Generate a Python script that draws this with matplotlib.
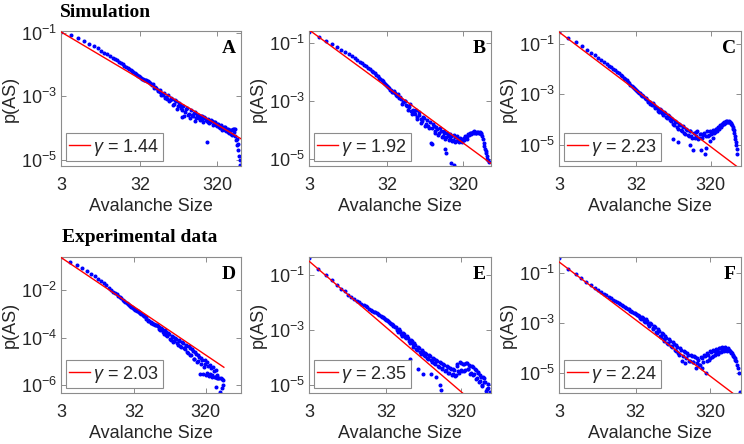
import numpy as np
import matplotlib
matplotlib.use('Agg')
import matplotlib.pyplot as plt
from matplotlib.ticker import FixedLocator, FixedFormatter, NullLocator

plt.rcParams['font.family'] = ['Liberation Sans', 'DejaVu Sans']
plt.rcParams['mathtext.fontset'] = 'custom'
plt.rcParams['mathtext.rm'] = 'Liberation Sans'
plt.rcParams['mathtext.it'] = 'Liberation Sans:italic'

# ---------------- data (avalanche size, log10 p(AS)) ----------------
size_A = [3,4,5,6,7,8,9,10,11,12,13,14,15,16,17,18,19,20,21,22,23,24,25,26,27,28,29,30,31,32,33,34,35,36,37,38,39,40,
          42,43,44,46,47,49,50,52,54,55,57,58,60,62,64,66,68,70,72,74,76,78,80,83,85,88,90,93,95,98,101,104,107,110,111,
          113,116,120,123,126,130,134,137,140,145,149,153,158,162,165,171,175,180,185,190,195,200,205,211,216,222,228,234,
          236,240,246,252,259,265,272,279,286,293,300,308,315,322,330,338,346,354,362,371,380,389,398,407,417,426,436,446,
          456,466,477,487,498,509,520,531,543,550,560,570,580,590,600,612,625,640]
logp_A = [-0.97,-1.08,-1.17,-1.27,-1.35,-1.43,-1.50,-1.57,-1.63,-1.68,-1.74,-1.79,-1.83,-1.87,-1.92,-1.95,-1.99,-2.04,
          -2.08,-2.11,-2.14,-2.17,-2.21,-2.24,-2.27,-2.30,-2.34,-2.36,-2.38,-2.40,-2.44,-2.46,-2.47,-2.50,-2.50,-2.48,-2.53,
          -2.52,-2.57,-2.60,-2.62,-2.66,-2.63,-2.73,-2.70,-2.76,-2.80,-2.83,-2.86,-2.80,-2.98,-2.92,-2.95,-2.90,-3.05,-3.02,
          -3.08,-2.98,-3.15,-3.12,-3.05,-3.10,-3.28,-3.25,-3.12,-3.15,-3.40,-3.30,-3.22,-3.28,-3.38,-3.45,-3.65,-3.32,-3.30,
          -3.62,-3.50,-3.42,-3.38,-3.58,-3.55,-3.70,-3.45,-3.58,-3.62,-3.52,-3.50,-3.78,-3.70,-3.60,-3.58,-3.68,-3.75,-3.62,
          -3.62,-3.72,-3.80,-3.66,-3.68,-3.75,-3.78,-4.43,-3.80,-3.72,-3.84,-3.82,-3.76,-3.78,-3.90,-3.88,-3.82,-3.83,-3.92,
          -3.95,-3.88,-3.88,-3.98,-4.00,-3.93,-3.92,-4.06,-4.05,-3.98,-3.98,-4.08,-4.10,-4.04,-4.03,-4.12,-4.15,-4.06,-4.08,
          -4.18,-4.22,-4.05,-4.02,-4.12,-4.05,-4.25,-4.38,-4.35,-4.55,-4.50,-4.70,-4.90,-5.00,-5.18]

size_B = [3,4,5,6,7,8,9,10,11,12,13,14,15,16,17,18,19,20,21,22,23,24,25,26,27,28,29,30,31,32,33,34,35,36,37,38,39,40,
          42,43,44,46,47,49,50,52,54,55,57,58,60,62,64,66,68,70,72,74,76,78,80,83,85,88,90,93,95,98,101,104,107,110,113,
          116,120,123,125,127,130,134,137,141,145,149,153,158,162,167,171,176,180,182,186,190,192,195,200,205,211,216,220,
          222,228,234,240,245,246,252,259,265,272,279,286,293,300,308,315,322,330,338,346,354,362,371,380,389,398,407,417,
          426,436,446,456,466,477,487,498,509,520,531,543,555,566,578,590,603,615,628,640,655,665,685,700]
logp_B = [-0.62,-0.82,-0.93,-1.05,-1.15,-1.24,-1.32,-1.40,-1.47,-1.53,-1.60,-1.66,-1.71,-1.77,-1.82,-1.87,-1.91,-1.96,
          -2.01,-2.05,-2.10,-2.15,-2.20,-2.24,-2.28,-2.33,-2.38,-2.42,-2.46,-2.50,-2.53,-2.56,-2.62,-2.63,-2.68,-2.70,-2.66,
          -2.72,-2.80,-2.82,-2.78,-2.92,-2.88,-2.95,-3.10,-3.05,-3.00,-3.02,-3.15,-3.18,-3.30,-3.20,-3.12,-3.35,-3.45,-3.30,
          -3.40,-3.45,-3.30,-3.55,-3.62,-3.48,-3.40,-3.62,-3.75,-3.70,-3.55,-3.60,-3.85,-3.78,-3.65,-3.85,-3.95,-3.72,-4.44,
          -3.95,-4.50,-3.80,-3.88,-4.10,-4.05,-3.90,-3.98,-4.18,-4.10,-3.95,-4.05,-4.25,-4.20,-4.02,-4.12,-4.67,-4.30,-4.25,
          -4.79,-4.10,-4.20,-4.35,-4.30,-4.15,-5.13,-4.22,-4.38,-4.35,-4.18,-5.20,-4.25,-4.40,-4.38,-4.22,-4.30,-4.42,-4.35,
          -4.28,-4.32,-4.40,-4.30,-4.36,-4.28,-4.22,-4.25,-4.32,-4.22,-4.15,-4.18,-4.12,-4.15,-4.10,-4.12,-4.08,-4.10,-4.05,
          -4.08,-4.12,-4.10,-4.06,-4.08,-4.12,-4.12,-4.08,-4.10,-4.15,-4.20,-4.30,-4.45,-4.55,-4.65,-4.72,-4.80,-4.90,-5.00,
          -5.05,-5.10]

size_C = [3,4,5,6,7,8,9,10,11,12,13,14,15,16,17,18,19,20,21,22,23,24,25,26,27,28,29,30,31,32,33,34,35,36,37,38,39,40,
          42,43,44,46,47,49,50,52,54,55,57,58,60,62,64,66,68,70,72,74,76,78,80,83,85,88,90,93,95,98,100,101,104,107,110,
          113,116,117,120,123,127,130,134,137,141,145,149,153,158,162,167,170,171,176,180,186,190,195,200,205,211,216,222,
          228,234,240,246,252,259,265,272,277,286,293,300,308,315,322,330,338,346,354,362,371,380,389,398,407,417,426,436,
          446,456,466,477,487,498,509,520,531,543,555,566,578,590,603,615,628,640,650,660,668,676,688,700,712,724]
logp_C = [-0.53,-0.78,-0.95,-1.10,-1.23,-1.35,-1.45,-1.55,-1.63,-1.71,-1.79,-1.86,-1.93,-1.99,-2.05,-2.11,-2.17,-2.23,
          -2.29,-2.35,-2.40,-2.45,-2.51,-2.56,-2.61,-2.66,-2.70,-2.74,-2.79,-2.83,-2.86,-2.91,-2.93,-2.95,-3.02,-3.05,-3.02,
          -3.08,-3.15,-3.18,-3.14,-3.25,-3.30,-3.30,-3.38,-3.42,-3.35,-3.40,-3.50,-3.55,-3.48,-3.52,-3.65,-3.68,-3.58,-3.62,
          -3.75,-3.80,-3.70,-3.75,-3.88,-3.92,-3.82,-3.85,-4.00,-4.05,-3.92,-3.95,-4.74,-4.15,-4.20,-4.05,-4.08,-4.28,-4.35,
          -4.88,-4.15,-4.20,-4.40,-4.45,-4.25,-4.30,-4.50,-4.55,-4.35,-4.40,-4.60,-4.65,-4.45,-5.00,-4.45,-4.62,-4.70,-5.20,
          -4.50,-4.72,-4.62,-4.48,-4.45,-4.75,-4.70,-4.55,-4.55,-5.20,-4.70,-4.58,-4.50,-5.33,-4.62,-5.13,-4.45,-4.65,-4.58,
          -4.85,-4.45,-4.55,-4.52,-4.70,-4.40,-4.50,-4.48,-4.38,-4.38,-4.45,-4.30,-4.28,-4.35,-4.22,-4.30,-4.18,-4.22,-4.12,
          -4.15,-4.10,-4.12,-4.06,-4.08,-4.05,-4.08,-4.06,-4.10,-4.08,-4.12,-4.15,-4.22,-4.28,-4.35,-4.42,-4.50,-4.62,-4.74,
          -4.88,-5.00,-5.15,-5.33]

size_D = [3,4,5,6,7,8,9,10,11,12,13,14,15,16,17,18,19,20,21,22,23,24,25,26,27,28,29,30,31,32,33,34,35,36,37,38,39,40,
          42,43,44,46,47,49,50,52,54,55,57,58,60,62,64,66,68,70,72,74,76,78,80,83,85,88,90,93,95,98,101,104,107,110,113,
          116,120,123,127,130,134,137,141,145,149,153,158,162,167,171,176,180,186,190,195,200,205,211,216,222,228,234,240,
          246,252,259,265,272,279,286,293,300,308,315,322,330,338,346,354,362,371,380,389,398,407,417,426,436,440,446,456,
          466,477,498,515,520,543,550,555,566]
logp_D = [-0.61,-0.82,-0.95,-1.07,-1.19,-1.30,-1.41,-1.52,-1.62,-1.71,-1.80,-1.90,-1.98,-2.06,-2.12,-2.18,-2.24,-2.30,
          -2.35,-2.40,-2.45,-2.50,-2.54,-2.58,-2.62,-2.66,-2.70,-2.73,-2.76,-2.78,-2.82,-2.84,-2.87,-2.90,-2.93,-2.96,-2.98,
          -3.00,-3.05,-3.08,-3.10,-3.15,-3.20,-3.30,-3.25,-3.30,-3.36,-3.38,-3.40,-3.42,-3.44,-3.45,-3.47,-3.48,-3.52,-3.55,
          -3.62,-3.70,-3.58,-3.62,-3.78,-3.85,-3.70,-3.75,-3.90,-3.95,-3.80,-3.85,-4.05,-4.10,-3.92,-3.98,-4.20,-4.15,-4.02,
          -4.05,-4.25,-4.30,-4.12,-4.15,-4.35,-4.40,-4.20,-4.25,-4.45,-4.50,-4.30,-4.35,-4.60,-4.65,-4.34,-4.45,-4.75,-4.75,
          -4.50,-4.55,-4.90,-4.90,-4.62,-4.70,-5.05,-5.00,-4.72,-4.80,-5.52,-5.10,-4.85,-4.95,-5.55,-5.25,-4.95,-5.10,-5.60,
          -5.50,-5.05,-5.20,-5.62,-5.55,-5.15,-5.30,-5.65,-5.60,-5.25,-5.40,-5.68,-5.65,-6.08,-5.35,-5.60,-5.70,-5.70,-5.70,
          -6.30,-5.72,-5.75,-6.15,-6.00,-5.78]

size_E = [3,4,5,6,7,8,9,10,11,12,13,14,15,16,17,18,19,20,21,22,23,24,25,26,27,28,29,30,31,32,33,34,35,36,37,38,39,40,
          42,43,44,46,47,49,50,52,54,55,57,58,60,62,64,66,67,68,70,72,74,76,78,80,83,85,86,88,90,93,95,98,100,101,104,107,
          110,113,116,120,123,126,127,130,134,137,141,145,148,149,153,158,162,166,167,171,174,176,180,186,190,195,200,205,
          211,216,222,228,234,240,246,252,259,265,272,279,286,293,300,308,315,322,330,338,346,354,362,371,380,389,398,407,
          417,426,436,446,456,466,477,487,498,509,520,531,543,555,566,578,590,603,615,628,640,655,665,685,700,720,740,770]
logp_E = [-0.38,-0.75,-1.00,-1.18,-1.35,-1.48,-1.58,-1.70,-1.78,-1.86,-1.92,-1.98,-2.03,-2.08,-2.12,-2.16,-2.22,-2.25,
          -2.29,-2.33,-2.35,-2.38,-2.42,-2.45,-2.47,-2.50,-2.52,-2.55,-2.60,-2.62,-2.64,-2.66,-2.70,-2.72,-2.76,-2.78,-2.80,
          -2.85,-2.88,-2.90,-2.98,-3.05,-2.95,-3.02,-3.12,-3.20,-3.10,-3.15,-3.25,-3.30,-3.22,-3.28,-3.40,-3.45,-4.04,-3.35,
          -3.40,-3.52,-3.60,-3.48,-3.55,-3.68,-3.72,-4.41,-3.60,-3.65,-3.80,-3.85,-3.72,-3.78,-4.59,-3.90,-3.95,-3.82,-3.88,
          -4.00,-4.05,-3.92,-3.95,-4.59,-4.10,-4.15,-4.00,-4.05,-4.20,-4.25,-4.71,-4.08,-4.12,-4.30,-4.35,-5.01,-4.15,-4.20,
          -5.19,-4.38,-4.40,-4.25,-4.28,-4.48,-4.45,-4.30,-4.35,-4.55,-4.55,-4.38,-4.40,-4.62,-4.60,-4.42,-4.45,-4.68,-4.65,
          -4.25,-4.30,-4.50,-4.55,-4.15,-4.20,-4.45,-4.50,-4.22,-4.25,-4.48,-4.45,-4.18,-4.20,-4.42,-4.40,-4.28,-4.30,-4.58,
          -4.55,-4.32,-4.35,-4.62,-4.60,-4.42,-4.45,-4.78,-4.75,-4.52,-4.55,-4.88,-4.85,-4.65,-4.70,-5.05,-5.00,-4.70,-4.75,
          -4.88,-4.90,-5.20,-5.15,-4.95,-5.10,-5.25]

size_F = [3,4,5,6,7,8,9,10,11,12,13,14,15,16,17,18,19,20,21,22,23,24,25,26,27,28,29,30,31,32,33,34,35,36,37,38,39,40,
          42,43,44,46,47,49,50,52,54,55,57,58,60,62,64,66,68,70,72,74,76,78,80,83,85,88,90,93,95,98,101,104,107,110,113,
          116,120,123,127,130,134,137,141,145,149,153,158,162,167,171,176,180,186,190,195,200,205,211,216,222,228,234,240,
          246,252,259,265,272,279,286,293,300,308,315,322,330,338,346,354,362,371,380,389,398,407,417,426,436,446,456,466,
          477,487,498,509,520,531,543,555,566,578,590,603,615,628,640,655,665,685,700,720,740,760,790,815]
logp_F = [-0.41,-0.83,-1.05,-1.22,-1.37,-1.50,-1.60,-1.70,-1.78,-1.85,-1.90,-1.96,-2.02,-2.07,-2.12,-2.16,-2.20,-2.25,
          -2.29,-2.32,-2.36,-2.40,-2.42,-2.45,-2.50,-2.52,-2.55,-2.58,-2.60,-2.62,-2.66,-2.68,-2.70,-2.72,-2.80,-2.85,-2.76,
          -2.80,-2.90,-2.95,-2.85,-2.90,-3.05,-3.10,-2.98,-3.05,-3.20,-3.25,-3.10,-3.15,-3.35,-3.40,-3.22,-3.30,-3.50,-3.55,
          -3.38,-3.45,-3.65,-3.70,-3.50,-3.60,-3.80,-3.85,-3.62,-3.70,-3.90,-3.95,-3.75,-3.85,-4.05,-4.10,-3.88,-3.95,-4.20,
          -4.25,-4.00,-4.05,-4.50,-4.30,-4.10,-4.15,-4.60,-4.40,-4.18,-4.25,-4.50,-4.50,-4.28,-4.30,-4.55,-4.55,-4.30,-4.35,
          -4.79,-4.60,-4.38,-4.45,-4.65,-4.65,-4.35,-4.40,-4.80,-4.55,-4.25,-4.30,-4.99,-4.50,-4.20,-4.25,-4.45,-4.40,-4.12,
          -4.15,-4.35,-4.30,-4.05,-4.10,-4.28,-4.20,-4.02,-4.05,-4.22,-4.15,-3.98,-4.00,-4.15,-4.10,-3.95,-3.98,-4.12,-4.08,
          -3.96,-4.02,-4.10,-4.05,-4.00,-4.08,-4.05,-4.12,-4.15,-4.20,-4.18,-4.25,-4.30,-4.35,-4.40,-4.45,-4.52,-4.65,-4.79,
          -4.99,-5.75]

sizes = [size_A, size_B, size_C, size_D, size_E, size_F]
logps = [logp_A, logp_B, logp_C, logp_D, logp_E, logp_F]

panel_letters = ['A', 'B', 'C', 'D', 'E', 'F']
gammas = [1.44, 1.92, 2.23, 2.03, 2.35, 2.24]
fit_logp_at3 = [-0.98, -0.56, -0.54, -0.62, -0.48, -0.565]
fit_end_size = [650, 740, 810, 575, 800, 830]
x_max = [650, 740, 810, 1000, 800, 830]
logy_lims = [(-5.20, -0.95), (-5.24, -0.60), (-5.82, -0.50),
             (-6.34, -0.60), (-5.29, -0.33), (-5.78, -0.37)]
ytick_exps = [[-5, -3, -1], [-5, -3, -1], [-5, -3, -1],
              [-6, -4, -2], [-5, -3, -1], [-5, -3, -1]]
xtick_vals = [3, 32, 320]
xtick_labels = ['3', '32', '320']
row_titles = ['Simulation', 'Experimental data']

# ---------------- figure ----------------
W, H = 744, 444
fig = plt.figure(figsize=(W / 100, H / 100), dpi=100)

col_px = [(61, 241), (309, 491), (559, 741)]
row_px = [(31, 166), (257, 393)]

frame_col = '#8c8c8c'
text_col = '#262626'
serif = ['Liberation Serif', 'DejaVu Serif']

for i in range(6):
    r, c = divmod(i, 3)
    x0, x1 = col_px[c]
    y0, y1 = row_px[r]
    ax = fig.add_axes([x0 / W, 1 - y1 / H, (x1 - x0) / W, (y1 - y0) / H])
    ax.set_xscale('log')
    ax.set_yscale('log')

    xs = np.array(sizes[i], dtype=float)
    ys = 10.0 ** np.array(logps[i])
    ax.plot(xs, ys, linestyle='none', marker='.', markersize=3.8,
            color='#0000ff', zorder=2)

    g = gammas[i]
    xf = np.array([3.0, fit_end_size[i]])
    yf = 10.0 ** fit_logp_at3[i] * (xf / 3.0) ** (-g)
    line, = ax.plot(xf, yf, color='#ff0000', lw=1.0, zorder=3)

    ax.set_xlim(3, x_max[i])
    ax.set_ylim(10.0 ** logy_lims[i][0], 10.0 ** logy_lims[i][1])

    ax.xaxis.set_major_locator(FixedLocator(xtick_vals))
    ax.xaxis.set_major_formatter(FixedFormatter(xtick_labels))
    ax.xaxis.set_minor_locator(NullLocator())
    yt = [10.0 ** e for e in ytick_exps[i]]
    ax.yaxis.set_major_locator(FixedLocator(yt))
    ax.yaxis.set_major_formatter(FixedFormatter(
        [r'$\mathregular{10^{%d}}$' % e for e in ytick_exps[i]]))
    ax.yaxis.set_minor_locator(NullLocator())

    ax.tick_params(axis='both', which='major', direction='in', length=3.5,
                   width=0.7, colors=frame_col, labelcolor=text_col,
                   labelsize=13, top=True, right=True)
    ax.tick_params(axis='x', pad=8)
    ax.tick_params(axis='y', pad=3)
    for s in ax.spines.values():
        s.set_color(frame_col)
        s.set_linewidth(0.8)

    ax.set_xlabel('Avalanche Size', fontsize=13, color=text_col, labelpad=3)
    ax.set_ylabel('p(AS)', fontsize=13, color=text_col)
    ax.yaxis.set_label_coords(-42.0 / (x1 - x0), 0.5)

    leg = ax.legend([line], [r'$\mathit{\gamma}$ = %.2f' % g], loc='lower left',
                    fontsize=13, handlelength=1.15, handletextpad=0.15,
                    borderaxespad=0.25, borderpad=0.22, fancybox=False,
                    framealpha=1.0, edgecolor=frame_col)
    leg.get_frame().set_linewidth(0.8)
    for t in leg.get_texts():
        t.set_color(text_col)

    ax.text(0.972, 0.835, panel_letters[i], transform=ax.transAxes,
            ha='right', va='baseline', fontsize=14, fontweight='bold',
            family=serif, color='black')

fig.text(60 / W, 1 - 17 / H, row_titles[0], ha='left', va='baseline',
         fontsize=14, fontweight='bold', family=serif)
fig.text(62 / W, 1 - 242 / H, row_titles[1], ha='left', va='baseline',
         fontsize=14, fontweight='bold', family=serif)

fig.savefig('out.png', dpi=100)
